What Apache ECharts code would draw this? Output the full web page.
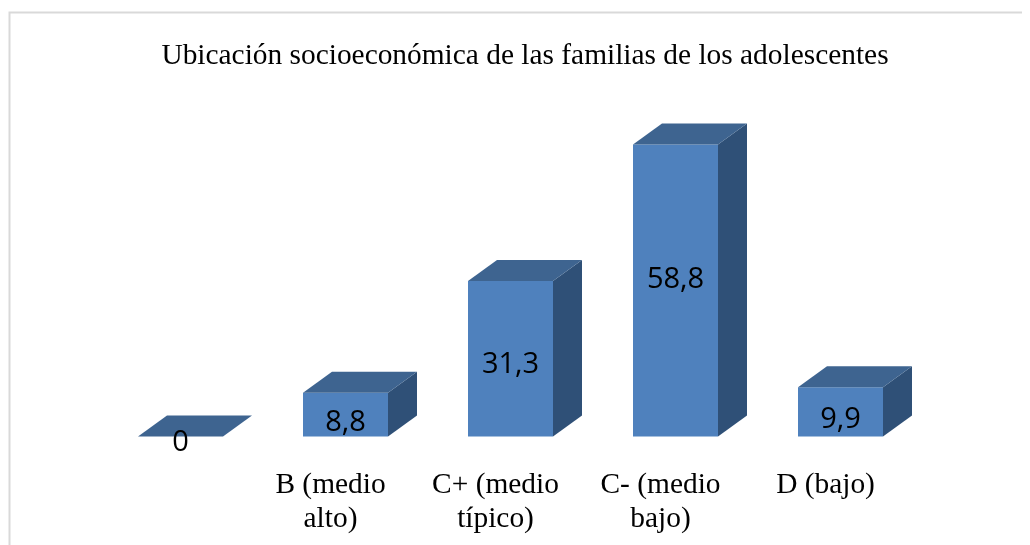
<!DOCTYPE html>
<html>
<head>
<meta charset="utf-8">
<title>Ubicación socioeconómica</title>
<script src="https://cdn.jsdelivr.net/npm/echarts@6/dist/echarts.min.js"></script>
<style>
  html, body { margin: 0; padding: 0; background: #fff; }
  #main { width: 1030px; height: 545px; }
</style>
</head>
<body>
<div id="main"></div>
<script>
  var titleText = 'Ubicación socioeconómica de las familias de los adolescentes'
  var categories = ['', 'B (medio\nalto)', 'C+ (medio\ntípico)', 'C- (medio\nbajo)', 'D (bajo)']
  var values = [0, 8.8, 31.3, 58.8, 9.9]
  var valueLabels = ['0', '8,8', '31,3', '58,8', '9,9']

  // profundidad de la caja 3D
  var depthX = 29
  var depthY = 21
  var barWidth = 85
  // ajuste vertical de cada etiqueta respecto al centro de la barra
  var labelNudge = [6, 8, 6, -11, 8]

  function renderBox (params, api) {
    var i = api.value(0)
    var base = api.coord([i, 0])
    var top = api.coord([i, api.value(1)])
    var x0 = base[0] - barWidth / 2
    var x1 = base[0] + barWidth / 2
    var children = []
    if (top[1] < base[1]) {
      children.push({
        type: 'rect',
        shape: { x: x0, y: top[1], width: barWidth, height: base[1] - top[1] },
        style: { fill: '#4f81bd' }
      })
      children.push({
        type: 'polygon',
        shape: { points: [[x1, top[1]], [x1 + depthX, top[1] - depthY], [x1 + depthX, base[1] - depthY], [x1, base[1]]] },
        style: { fill: '#2f5077' }
      })
    }
    children.push({
      type: 'polygon',
      shape: { points: [[x0, top[1]], [x0 + depthX, top[1] - depthY], [x1 + depthX, top[1] - depthY], [x1, top[1]]] },
      style: { fill: '#3e6490' }
    })
    return { type: 'group', children: children }
  }

  var chart = echarts.init(document.getElementById('main'))
  chart.setOption({
    animation: false,
    title: {
      text: titleText,
      left: 520,
      top: 37,
      textAlign: 'center',
      textStyle: { fontFamily: 'Liberation Serif', fontSize: 29.4, fontWeight: 'normal', color: '#000' }
    },
    grid: { left: 98, right: 107, top: 138.5, bottom: 108.5 },
    xAxis: {
      type: 'category',
      data: categories,
      axisLine: { show: false },
      axisTick: { show: false },
      axisLabel: {
        interval: 0,
        margin: 32,
        padding: [0, 30, 0, 0],
        fontFamily: 'Liberation Serif',
        fontSize: 29.4,
        lineHeight: 34,
        color: '#000'
      }
    },
    yAxis: { type: 'value', min: 0, max: 60, show: false },
    series: [
      {
        type: 'custom',
        renderItem: renderBox,
        encode: { x: 0, y: 1 },
        data: values.map(function (v, i) { return [i, v] }),
        z: 2
      },
      {
        // etiquetas de valor sobre el frente de cada barra
        type: 'bar',
        barWidth: barWidth,
        itemStyle: { color: 'transparent' },
        label: {
          show: true,
          position: 'inside',
          formatter: function (p) { return valueLabels[p.dataIndex] },
          fontFamily: 'Open Sans',
          fontSize: 29,
          color: '#000'
        },
        data: values.map(function (v, i) {
          return { value: v, label: { offset: [0, labelNudge[i]] } }
        }),
        z: 3
      }
    ],
    graphic: [
      {
        type: 'polyline',
        shape: { points: [[9.5, 545], [9.5, 12.5], [1022, 12.5]] },
        style: { stroke: '#d9d9d9', lineWidth: 2, fill: 'none' }
      }
    ]
  })
</script>
</body>
</html>
